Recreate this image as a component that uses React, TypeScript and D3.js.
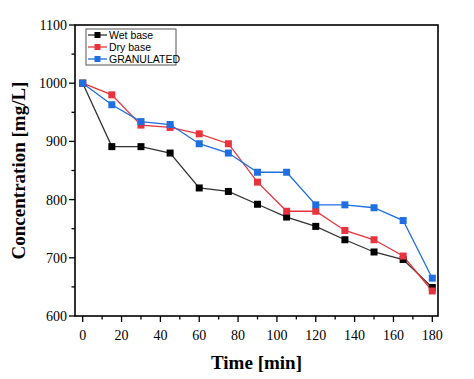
import React from "react";
import * as d3 from "d3";

const times = [0, 15, 30, 45, 60, 75, 90, 105, 120, 135, 150, 165, 180];
const wetBase = [1000, 891, 891, 880, 820, 814, 792, 770, 754, 731, 710, 697, 649];
const dryBase = [1000, 980, 928, 924, 913, 896, 830, 780, 780, 747, 731, 703, 643];
const granulated = [1000, 963, 934, 929, 896, 880, 847, 847, 791, 791, 786, 764, 665];
const seriesNames = ["Wet base", "Dry base", "GRANULATED"];
const seriesColors = ["#000000", "#e8333c", "#1f6fe0"];
const lineColors = ["#333333", "#e8333c", "#1f6fe0"];
const xTicks = [0, 20, 40, 60, 80, 100, 120, 140, 160, 180];
const yTicks = [600, 700, 800, 900, 1000, 1100];

export default function App() {
  const W = 474, H = 379;
  const left = 75, right = 438, top = 25, bottom = 316;
  const x = d3.scaleLinear().domain([0, 180]).range([82.7, 432.3]);
  const y = d3.scaleLinear().domain([600, 1100]).range([bottom, top]);
  const all = [wetBase, dryBase, granulated];
  const line = d3.line<number>().x((_, i) => x(times[i])).y((d) => y(d));
  const xMinor = d3.range(0, 181, 10).filter((v) => v % 20 !== 0);
  const yMinor = d3.range(650, 1100, 100);
  const serif = "'Liberation Serif', 'Times New Roman', serif";
  const sans = "'Liberation Sans', Arial, sans-serif";
  const ms = 7;
  return (
    <svg width={W} height={H} style={{ position: "absolute", left: 0, top: 0, background: "#fff" }}>
      {all.map((s, k) => (
        <path key={k} d={line(s) || ""} fill="none" stroke={lineColors[k]} strokeWidth={1.3} />
      ))}
      {all.map((s, k) =>
        s.map((v, i) => (
          <rect key={k + "-" + i} x={x(times[i]) - ms / 2} y={y(v) - ms / 2} width={ms} height={ms} fill={seriesColors[k]} />
        ))
      )}
      <rect x={left} y={top} width={right - left} height={bottom - top} fill="none" stroke="#000" strokeWidth={1.6} />
      {xTicks.map((t) => (
        <g key={t}>
          <line x1={x(t)} x2={x(t)} y1={bottom} y2={bottom + 6} stroke="#000" strokeWidth={1.3} />
          <text x={x(t)} y={bottom + 24} textAnchor="middle" fontFamily={serif} fontSize={14}>{t}</text>
        </g>
      ))}
      {xMinor.map((t) => (
        <line key={"xm" + t} x1={x(t)} x2={x(t)} y1={bottom} y2={bottom + 3.5} stroke="#000" strokeWidth={1.3} />
      ))}
      {yTicks.map((t) => (
        <g key={t}>
          <line x1={left - 6} x2={left} y1={y(t)} y2={y(t)} stroke="#000" strokeWidth={1.3} />
          <text x={left - 8} y={y(t) + 5} textAnchor="end" fontFamily={serif} fontSize={14}>{t}</text>
        </g>
      ))}
      {yMinor.map((t) => (
        <line key={"ym" + t} x1={left - 3.5} x2={left} y1={y(t)} y2={y(t)} stroke="#000" strokeWidth={1.3} />
      ))}
      <text x={(left + right) / 2} y={369} textAnchor="middle" fontFamily={serif} fontWeight="bold" fontSize={19}>Time [min]</text>
      <text transform={`translate(25, ${(top + bottom) / 2}) rotate(-90)`} textAnchor="middle" fontFamily={serif} fontWeight="bold" fontSize={19}>Concentration [mg/L]</text>
      <rect x={86} y={29} width={90} height={36} fill="#fff" stroke="#555" strokeWidth={1} />
      {seriesNames.map((n, k) => (
        <g key={n}>
          <line x1={88} x2={107} y1={35 + k * 12} y2={35 + k * 12} stroke={lineColors[k]} strokeWidth={1.3} />
          <rect x={97.5 - 3} y={35 + k * 12 - 3} width={6} height={6} fill={seriesColors[k]} />
          <text x={109} y={35 + k * 12 + 3.8} fontFamily={sans} fontSize={10.5}>{n}</text>
        </g>
      ))}
    </svg>
  );
}
